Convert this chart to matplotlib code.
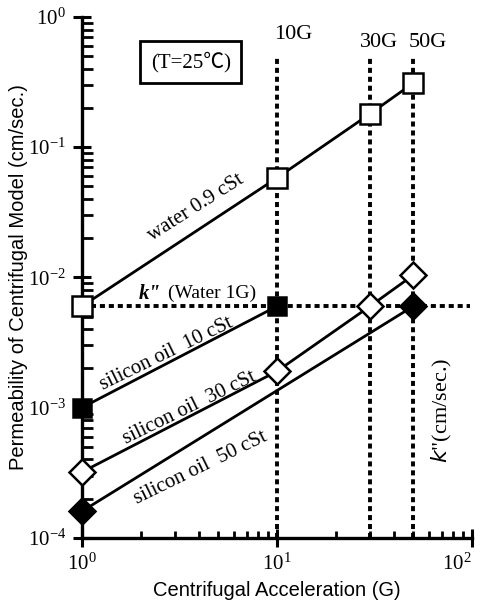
import matplotlib
matplotlib.use("Agg")
import matplotlib.pyplot as plt
import numpy as np

plt.rcParams['font.family'] = ['Liberation Serif', 'DejaVu Serif']
plt.rcParams['mathtext.default'] = 'regular'

# data
g_water = [1, 10, 30, 50]
k_water = [0.006, 0.058, 0.18, 0.31]
g_oil10 = [1, 10]
k_oil10 = [0.001, 0.006]
g_oil30 = [1, 10, 30, 50]
k_oil30 = [0.00032, 0.0019, 0.006, 0.0104]
g_oil50 = [1, 50]
k_oil50 = [0.00016, 0.006]
k_water_1g = 0.006
g_levels = [10, 30, 50]
g_labels = ['10G', '30G', '50G']

fig = plt.figure(figsize=(4.82, 6.03), dpi=100)
ax = fig.add_axes([0.170, 0.108, 0.809, 0.864])
ax.set_xscale('log')
ax.set_yscale('log')
ax.set_xlim(1, 100)
ax.set_ylim(1e-4, 1)

dot = (0, (1.3, 1.0))
# guide lines
for g in g_levels:
    ax.plot([g, g], [1e-4, 0.5], color='black', lw=2.8, ls=dot, zorder=1)
ax.plot([1, 98], [k_water_1g, k_water_1g], color='black', lw=2.8, ls=dot, zorder=1)

ax.plot(g_water, k_water, '-s', color='black', lw=2.0, ms=14, mfc='white', mec='black', mew=1.8, clip_on=False, zorder=5)
ax.plot(g_oil10, k_oil10, '-s', color='black', lw=2.0, ms=13, mfc='black', mec='black', mew=1.8, clip_on=False, zorder=5)
ax.plot(g_oil30, k_oil30, '-D', color='black', lw=2.0, ms=13, mfc='white', mec='black', mew=1.8, clip_on=False, zorder=5)
ax.plot(g_oil50, k_oil50, '-D', color='black', lw=2.0, ms=13, mfc='black', mec='black', mew=1.8, clip_on=False, zorder=5)

# labels
ax.text(3.84, 0.034, 'water 0.9 cSt', rotation=32.5, ha='center', va='center', fontsize=15)
ax.text(2.73, 0.00257, 'silicon oil  10 cSt', rotation=26, ha='center', va='center', fontsize=15)
ax.text(3.58, 0.00099, 'silicon oil  30 cSt', rotation=26, ha='center', va='center', fontsize=15)
ax.text(4.08, 0.000344, 'silicon oil  50 cSt', rotation=26, ha='center', va='center', fontsize=15)
ax.text(2.55, 0.0075, 'k"', ha='right', va='center', fontsize=15, style='italic', weight='bold')
ax.annotate('(Water 1G)', xy=(2.55, 0.0075), xytext=(5, 0), textcoords='offset points',
            ha='left', va='center', fontsize=14)
ax.text(70, 0.00095, '$\\mathit{k}$"(cm/sec.)', rotation=90, ha='center', va='center', fontsize=16)
ax.text(3.62, 0.45, '(T=25℃)', ha='center', va='center', fontsize=15,
        family=['Liberation Serif', 'Noto Sans CJK JP'],
        bbox=dict(boxstyle='square,pad=0.5', fc='white', ec='black', lw=2.0))
ax.text(9.7, 0.73, g_labels[0], ha='left', va='center', fontsize=16)
ax.text(33.5, 0.64, g_labels[1], ha='center', va='center', fontsize=16)
ax.text(59.5, 0.64, g_labels[2], ha='center', va='center', fontsize=16)

for s in ['top', 'right']:
    ax.spines[s].set_visible(False)
for s in ['left', 'bottom']:
    ax.spines[s].set_linewidth(2.4)

ax.tick_params(which='major', direction='inout', length=13, width=2.2, labelsize=15, pad=5)
ax.tick_params(which='minor', direction='in', length=8, width=2.0)
ax.tick_params(axis='x', which='minor', length=5)

ax.set_xlabel('Centrifugal Acceleration (G)', family='Liberation Sans', fontsize=14.5, labelpad=4)
ax.set_ylabel('Permeability of Centrifugal Model (cm/sec.)', family='Liberation Sans', fontsize=14.5, labelpad=0)

fig.canvas.draw()
for lab in ax.get_xticklabels():
    if lab.get_position()[0] >= 100:
        lab.set_ha('right')

fig.savefig('out.png', dpi=100)
